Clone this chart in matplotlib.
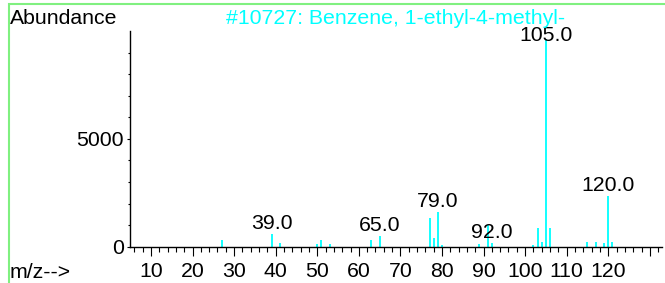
import matplotlib
matplotlib.use("Agg")
import matplotlib.pyplot as plt
from matplotlib.patches import Rectangle

plt.rcParams['font.family'] = ['Liberation Sans', 'DejaVu Sans']
plt.rcParams['font.size'] = 15.3

title = "#10727: Benzene, 1-ethyl-4-methyl-"

# peak list
mz = [27, 39, 41, 50, 51, 53, 63, 65, 77, 78, 79, 80, 89, 91, 92,
      102, 103, 104, 105, 106, 115, 117, 119, 120, 121]
abundance = [310, 590, 190, 120, 310, 130, 290, 510, 1310, 410, 1620, 70, 140, 1010, 160,
             80, 890, 240, 9650, 850, 220, 220, 160, 2360, 230]
labelled = [39, 65, 79, 92, 105, 120]

x_major = list(range(10, 131, 10))
x_labels = [str(v) if v <= 120 else '' for v in x_major]

fig = plt.figure(figsize=(6.65, 2.83), dpi=100)
ax = fig.add_axes([130.2 / 665, 36.3 / 283, 532.1 / 665, 215.7 / 283])

ax.vlines(mz, 0, abundance, color='#00ffff', lw=1.3)

heights = dict(zip(mz, abundance))
for m in labelled:
    y = min(heights[m], 9300)
    ax.annotate(f"{m:.1f}", (m, y), xytext=(0, 3.6), textcoords='offset points',
                ha='center', va='baseline', color='black')

ax.set_xlim(5, 133)
ax.set_ylim(0, 10000)
for s in ['top', 'right']:
    ax.spines[s].set_visible(False)
for s in ['left', 'bottom']:
    ax.spines[s].set_linewidth(1)

ax.set_xticks(x_major)
ax.set_xticklabels(x_labels)
ax.set_xticks(range(6, 133, 2), minor=True)
ax.set_yticks([0, 5000])
ax.set_yticks(range(1000, 10000, 1000), minor=True)
ax.tick_params(axis='x', which='major', length=6.7, width=0.8, pad=4)
ax.tick_params(axis='x', which='minor', length=3.8, width=0.8)
ax.tick_params(axis='y', which='major', length=2.5, width=0.8, pad=2)
ax.tick_params(axis='y', which='minor', length=1.5, width=0.8)

fig.text(10 / 665, 1 - 24.3 / 283, "Abundance", ha='left', va='baseline')
fig.text(226 / 665, 1 - 24.3 / 283, title, ha='left', va='baseline', color='#00ffff')
fig.text(10 / 665, 1 - 278 / 283, "m/z-->", ha='left', va='baseline')

# green frame, partly cut off by the image edge
fig.patches.append(Rectangle((9 / 665, -0.1), 1.2, 1 - 4 / 283 + 0.1, transform=fig.transFigure,
                             fill=False, edgecolor='#80f080', lw=1.5))

fig.savefig("out.png", dpi=100)
